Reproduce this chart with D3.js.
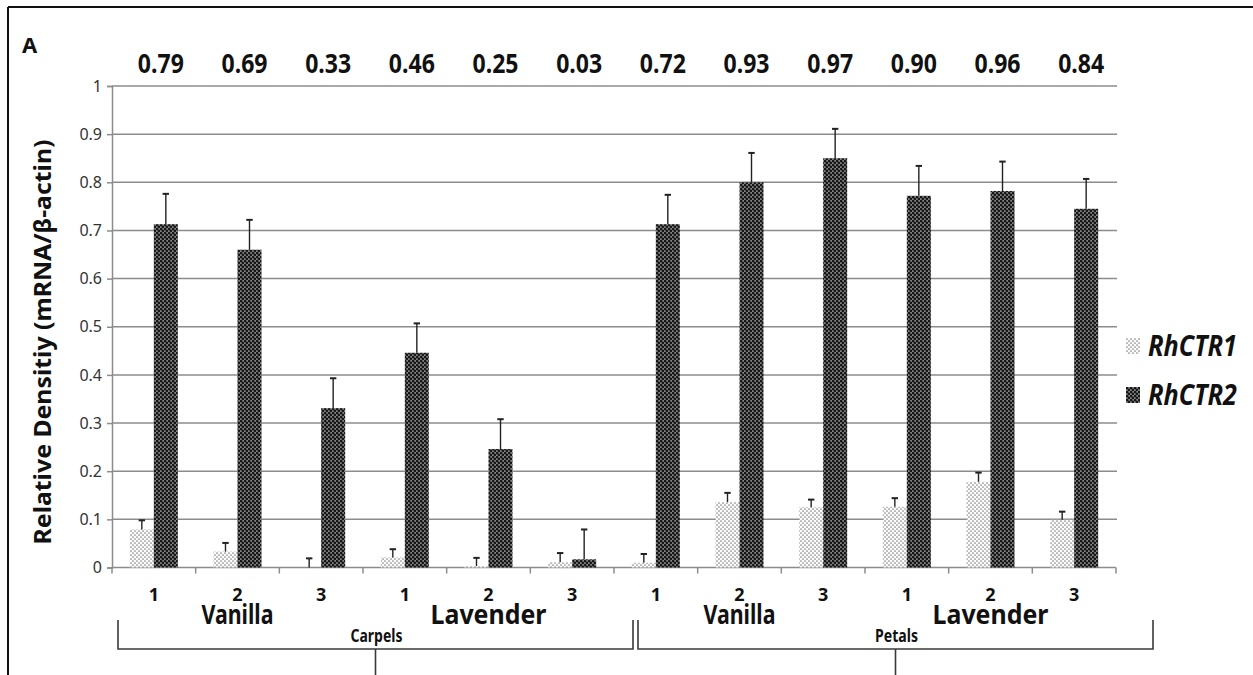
<!DOCTYPE html>
<html><head><meta charset="utf-8">
<script src="https://cdn.jsdelivr.net/npm/d3@7"></script>
<style>html,body{margin:0;padding:0;background:#fff;}svg{display:block;font-family:"Noto Sans","Open Sans",sans-serif;}</style>
</head><body><svg id="c" width="1253" height="675"></svg>
<script>
// ---- data ----
const stageLabels = ["1","2","3","1","2","3","1","2","3","1","2","3"];
const cultivarLabels = ["Vanilla","Lavender","Vanilla","Lavender"];
const tissueLabels = ["Carpels","Petals"];
const seriesNames = ["RhCTR1","RhCTR2"];
const rhCTR1 = [0.079,0.033,0.0,0.021,0.003,0.011,0.010,0.136,0.125,0.126,0.178,0.099];
const rhCTR1Err = [0.019,0.018,0.019,0.017,0.017,0.019,0.018,0.019,0.016,0.018,0.019,0.017];
const rhCTR2 = [0.713,0.660,0.331,0.446,0.246,0.017,0.713,0.800,0.850,0.772,0.782,0.745];
const rhCTR2Err = [0.063,0.062,0.062,0.061,0.062,0.062,0.061,0.061,0.061,0.062,0.061,0.062];
const ratioLabels = ["0.79","0.69","0.33","0.46","0.25","0.03","0.72","0.93","0.97","0.90","0.96","0.84"];
const yTicks = [0,0.1,0.2,0.3,0.4,0.5,0.6,0.7,0.8,0.9,1];
const yTitle = "Relative Densitiy (mRNA/β-actin)";
const panelLetter = "A";

const svg = d3.select("#c");
const idx = d3.range(stageLabels.length);
const x = d3.scaleBand().domain(idx).range([112,1116]).padding(0);
const xs = d3.scaleBand().domain(seriesNames).range([0,x.bandwidth()]).paddingInner(0).paddingOuter(0.743);
const y = d3.scaleLinear().domain([0,1]).range([567.5,86]);

// squeeze a text horizontally to a target width (condensed look)
function squeeze(sel, w){
  sel.each(function(){
    const t = d3.select(this);
    const nat = this.getComputedTextLength();
    const ax = +t.attr("x")||0, ay = +t.attr("y")||0;
    const k = (typeof w==="function"? w(t.datum()) : w)/nat;
    t.attr("transform",`translate(${ax},${ay}) scale(${k},1) translate(${-ax},${-ay})`);
  });
}

// patterns
const defs = svg.append("defs");
const pL = defs.append("pattern").attr("id","pLight").attr("patternUnits","userSpaceOnUse").attr("width",4).attr("height",4);
pL.append("rect").attr("width",4).attr("height",4).attr("fill","#fbfbfb");
pL.append("circle").attr("cx",1).attr("cy",1).attr("r",0.85).attr("fill","#888");
pL.append("circle").attr("cx",3).attr("cy",3).attr("r",0.85).attr("fill","#888");
const pD = defs.append("pattern").attr("id","pDark").attr("patternUnits","userSpaceOnUse").attr("width",4).attr("height",4);
pD.append("rect").attr("width",4).attr("height",4).attr("fill","#858585");
pD.append("circle").attr("cx",1).attr("cy",1).attr("r",1.4).attr("fill","#181818");
pD.append("circle").attr("cx",3).attr("cy",3).attr("r",1.4).attr("fill","#181818");
const fills = {RhCTR1:"url(#pLight)", RhCTR2:"url(#pDark)"};

// frame
svg.append("line").attr("x1",8).attr("x2",1253).attr("y1",7).attr("y2",7).attr("stroke","#111").attr("stroke-width",2);
svg.append("line").attr("x1",8).attr("x2",8).attr("y1",7).attr("y2",675).attr("stroke","#111").attr("stroke-width",2);

// gridlines
svg.append("g").selectAll("line").data(yTicks.filter(d=>d>0)).join("line")
  .attr("x1",112).attr("x2",1117).attr("y1",d=>y(d)).attr("y2",d=>y(d))
  .attr("stroke","#8c8c8c").attr("stroke-width",1.5);

// y axis
const ya = svg.append("g").attr("transform","translate(112,0)")
  .call(d3.axisLeft(y).tickValues(yTicks).tickFormat(d3.format("~g")).tickSize(5).tickPadding(5));
ya.select(".domain").attr("stroke","#8c8c8c").attr("stroke-width",1.5);
ya.selectAll(".tick line").attr("stroke","#8c8c8c").attr("stroke-width",1.5);
ya.selectAll(".tick text").attr("font-size",16).attr("fill","#333").attr("font-family","'Noto Sans',sans-serif");

// x axis
svg.append("line").attr("x1",112).attr("x2",1116).attr("y1",y(0)).attr("y2",y(0)).attr("stroke","#8c8c8c").attr("stroke-width",1.5);
svg.append("g").selectAll("line").data(idx.concat([idx.length])).join("line")
  .attr("x1",d=>d<idx.length?x(d):x.range()[1]).attr("x2",d=>d<idx.length?x(d):x.range()[1])
  .attr("y1",y(0)).attr("y2",y(0)+6).attr("stroke","#8c8c8c").attr("stroke-width",1.5);

// bars
const series = [
  {name:"RhCTR1", vals:rhCTR1, errs:rhCTR1Err},
  {name:"RhCTR2", vals:rhCTR2, errs:rhCTR2Err}
];
series.forEach(s=>{
  svg.append("g").selectAll("rect").data(idx).join("rect")
    .attr("x",i=>x(i)+xs(s.name)).attr("width",xs.bandwidth())
    .attr("y",i=>y(s.vals[i])).attr("height",i=>y(0)-y(s.vals[i]))
    .attr("fill",fills[s.name]);
});
series.forEach(s=>{
  const g = svg.append("g").attr("stroke","#222").attr("stroke-width",1.4);
  idx.forEach(i=>{
    const cx = x(i)+xs(s.name)+xs.bandwidth()/2;
    const top = y(s.vals[i]+s.errs[i]);
    g.append("line").attr("x1",cx).attr("x2",cx).attr("y1",y(s.vals[i])).attr("y2",top);
    g.append("line").attr("x1",cx-3.2).attr("x2",cx+3.2).attr("y1",top).attr("y2",top).attr("stroke-width",2);
  });
});

// ratio labels on top
svg.append("g").selectAll("text").data(idx).join("text")
  .attr("x",i=>x(i)+x.bandwidth()/2+7).attr("y",73)
  .attr("text-anchor","middle").attr("font-weight","bold").attr("font-size",27).attr("fill","#111")
  .text(i=>ratioLabels[i]).call(squeeze,46);

// panel letter
svg.append("text").attr("x",22).attr("y",53).attr("font-weight","bold").attr("font-size",22)
  .attr("fill","#111").text(panelLetter);

// y title
svg.append("g").attr("transform","translate(51,342) rotate(-90)")
  .append("text").attr("x",0).attr("y",0).attr("text-anchor","middle").attr("font-weight","bold").attr("font-size",23)
  .attr("fill","#111").text(yTitle).call(squeeze,405);

// stage labels
svg.append("g").selectAll("text").data(idx).join("text")
  .attr("x",i=>x(i)+x.bandwidth()/2).attr("y",601).attr("text-anchor","middle")
  .attr("font-weight","bold").attr("font-size",18).attr("fill","#111").text(i=>stageLabels[i]);

// cultivar labels
svg.append("g").selectAll("text").data(cultivarLabels).join("text")
  .attr("x",(d,k)=>x(k*3+1)+x.bandwidth()/2).attr("y",624).attr("text-anchor","middle")
  .attr("font-weight","bold").attr("font-size",27).attr("fill","#111")
  .text(d=>d).call(squeeze,d=>d==="Vanilla"?72:116);

// tissue brackets
const brackets = tissueLabels.map((t,k)=>({t, x0:x(k*6)+(k?24:6), x1:x(k*6+5)+x.bandwidth()+(k?37:19)}));
const bg = svg.append("g").attr("stroke","#3a3a3a").attr("stroke-width",1.6).attr("fill","none");
brackets.forEach(b=>{
  const cx=(b.x0+b.x1)/2;
  bg.append("path").attr("d",`M${b.x0},620V649H${b.x1}V620`);
  bg.append("line").attr("x1",cx).attr("x2",cx).attr("y1",649).attr("y2",675);
});
svg.append("g").selectAll("text").data(brackets).join("text")
  .attr("x",b=>(b.x0+b.x1)/2+1).attr("y",642).attr("text-anchor","middle")
  .attr("font-weight","bold").attr("font-size",18).attr("fill","#111")
  .text(b=>b.t).call(squeeze,b=>b.t==="Carpels"?52:43);

// legend
const lg = svg.append("g").selectAll("g").data(seriesNames).join("g")
  .attr("transform",(d,k)=>`translate(1126,${338+k*49})`);
lg.append("rect").attr("width",14).attr("height",16).attr("fill",d=>fills[d]);
lg.append("text").attr("x",22).attr("y",18).attr("font-weight","bold").attr("font-style","italic")
  .attr("font-size",28).attr("fill","#111").text(d=>d).call(squeeze,89);
</script></body></html>
